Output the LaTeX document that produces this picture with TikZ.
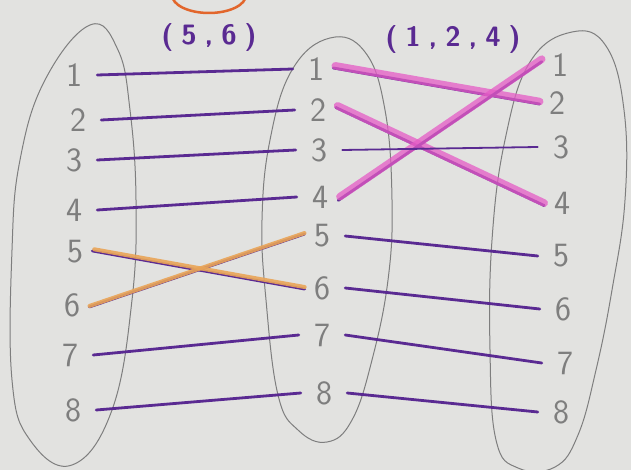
\documentclass[tikz,border=0pt]{standalone}
\usepackage{fontspec}
\definecolor{paper}{HTML}{E2E2E0}
\definecolor{pencil}{HTML}{7E7E7E}
\definecolor{ink}{HTML}{5A2A92}
\definecolor{marker}{HTML}{E55CC6}
\definecolor{peach}{HTML}{E9A457}
\definecolor{rust}{HTML}{E2662C}
\def\lgap{\hspace{8pt}}

\begin{document}
\begin{tikzpicture}[x=1pt, y=-1pt,
  num/.style={font=\fontsize{34}{34}\selectfont\sffamily, text=pencil, inner xsep=15pt, inner ysep=2pt},
  cyc/.style={font=\fontsize{28}{28}\selectfont\sffamily\bfseries, text=ink},
  link/.style={ink, line width=2.8pt, line cap=round},
  hl/.style={marker, line width=7.5pt, opacity=.75, line cap=round},
  swap/.style={peach, line width=4pt, opacity=.9, line cap=round},
  oval/.style={pencil, line width=1pt}]
  \fill[paper] (0,0) rectangle (631,470);
  \useasboundingbox (0,0) rectangle (631,470);
  \draw[rust, line width=2.5pt] (209,-5) ellipse [x radius=37, y radius=18];
  \draw[oval] plot[smooth cycle, tension=.7] coordinates {(90,25) (118,50) (130,110) (136,200) (132,300) (112,410) (72,465) (30,440) (12,380) (12,250) (20,160) (45,80)};
  \draw[oval] plot[smooth cycle, tension=.7] coordinates {(330,38) (365,52) (385,110) (392,200) (388,280) (372,360) (352,420) (327,442) (298,430) (278,395) (266,300) (262,220) (270,140) (292,70)};
  \draw[oval] plot[smooth cycle, tension=.7] coordinates {(572,32) (606,46) (624,110) (625,200) (612,290) (596,370) (578,435) (555,467) (518,468) (496,440) (490,350) (492,240) (505,140) (530,62)};
  \node[cyc] (swaplbl) at (209,38) {(\lgap5\lgap,\lgap6\lgap)};
  \node[cyc] (cyclbl) at (453,40) {(\lgap1\lgap,\lgap2\lgap,\lgap4\lgap)};
  \foreach \i/\x/\y in {1/74/75, 2/78/120, 3/74/160, 4/74/210, 5/75/252, 6/72/305, 7/70/355, 8/73/410}
    \node[num] (l\i) at (\x,\y) {\i};
  \foreach \i/\x/\y in {1/316/69, 2/318/110, 3/319/150, 4/320/197, 5/322/236, 6/322/288, 7/322/335, 8/324/393}
    \node[num] (m\i) at (\x,\y) {\i};
  \foreach \i/\x/\y in {1/560/65, 2/557/103, 3/561/147, 4/562/203, 5/561/256, 6/563/309, 7/565/363, 8/561/412}
    \node[num] (r\i) at (\x,\y) {\i};
  \foreach \i in {1,2,3,4,7,8}
    \draw[link] (l\i.east) -- (m\i.west);
  \draw[link, shorten <=-6pt, shorten >=-6pt] (l5.east) -- (m6.west);
  \draw[link, shorten <=-6pt, shorten >=-6pt] (l6.east) -- (m5.west);
  \draw[swap, shorten <=-4pt, shorten >=-6pt, transform canvas={yshift=2pt}] (l5.east) -- (m6.west);
  \draw[swap, shorten <=-6pt, shorten >=-6pt, transform canvas={yshift=1pt}] (l6.east) -- (m5.west);
  \foreach \a/\b in {1/2, 2/4, 4/1} {
    \draw[link, shorten <=-6pt, shorten >=-6pt] (m\a.east) -- (r\b.west);
    \draw[hl, shorten <=-4pt, shorten >=-6pt, transform canvas={yshift=2.5pt}] (m\a.east) -- (r\b.west);
  }
  \draw[link, line width=1.8pt] (m3.east) -- (r3.west);
  \foreach \i in {5,...,8}
    \draw[link] (m\i.east) -- (r\i.west);
\end{tikzpicture}
\end{document}
